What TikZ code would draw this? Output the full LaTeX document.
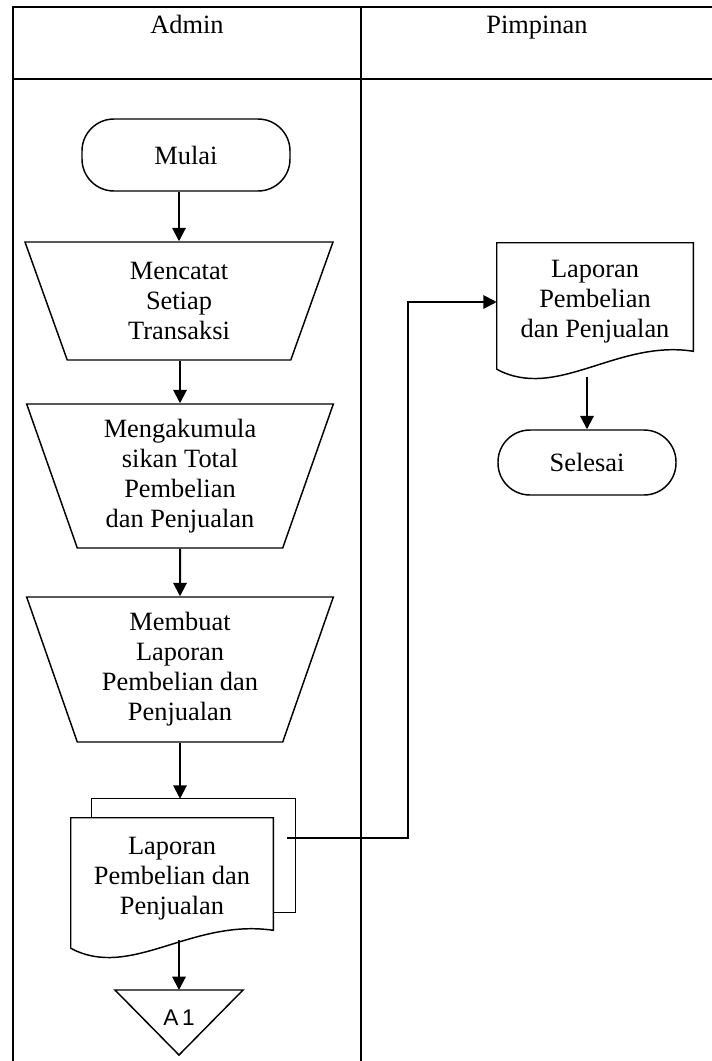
\documentclass[tikz,border=0pt]{standalone}
\usepackage{fontspec}
\setmainfont{Liberation Serif}
\newfontfamily\labelfont{Liberation Sans}
\usetikzlibrary{calc,shapes.geometric,arrows.meta}
\newcommand{\boxfont}{\fontsize{19.8}{22.5}\selectfont}
\newcommand{\drawdoc}[2]{
	\draw[shapeline] ($(#1.south west)+(0,#2)$) -- (#1.north west) -- (#1.north east)
		-- ($(#1.south east)+(0,#2-18)$)
		.. controls ($(#1.south west)+(120,#2-30)$) and ($(#1.south west)+(60,#2+32)$)
		.. ($(#1.south west)+(0,#2)$);
}

\begin{document}
\begin{tikzpicture}[x=0.75pt,y=-0.75pt,
	laneline/.style={line width=1.5pt},
	shapeline/.style={line width=1.1pt},
	arr/.style={line width=1.5pt,-{Triangle[length=10pt,width=10pt]}},
	terminal/.style={draw,shapeline,rounded corners=24pt,minimum width=156pt,minimum height=54pt,font=\boxfont},
	process/.style={draw,shapeline,trapezium,shape border rotate=180,trapezium stretches body,align=center,font=\boxfont,inner sep=2pt},
	docbox/.style={align=center,font=\boxfont,inner sep=0pt}]
	\useasboundingbox (0,0) rectangle (712,1061);

	% swimlanes
	\draw[laneline] (13,1061) -- (13,7) -- (712,7);
	\draw[laneline] (13,79) -- (712,79);
	\draw[laneline] (361,7) -- (361,1061);
	\node[font=\boxfont,anchor=base] (admin) at (187,33) {Admin};
	\node[font=\boxfont,anchor=base] (pimpinan) at (537,33) {Pimpinan};

	% admin
	\node[terminal] (mulai) at (186,155) {Mulai};
	\node[process,trapezium angle=63,minimum width=231pt,minimum height=88.5pt] (catat) at (179,301) {Mencatat\\Setiap\\Transaksi};
	\node[process,trapezium angle=67,minimum width=230pt,minimum height=108pt] (akumulasi) at (180,476) {Mengakumula\\sikan Total\\Pembelian\\dan Penjualan};
	\node[process,trapezium angle=67,minimum width=230pt,minimum height=108.75pt] (buat) at (180,669.5) {Membuat\\Laporan\\Pembelian dan\\Penjualan};
	\node[docbox,minimum width=152.25pt,minimum height=84.75pt] (lapB) at (193.5,855.5) {};
	\node[docbox,minimum width=151.5pt,minimum height=91.5pt] (lapA) at (172,879) {Laporan\\Pembelian dan\\Penjualan};
	\draw[shapeline] (lapB.west |- lapA.north) -- (lapB.north west) -- (lapB.north east)
		-- (lapB.south east) -- (lapA.east |- lapB.south);
	\drawdoc{lapA}{8}
	\coordinate (a1top) at (179,990);
	\draw[shapeline] (115,990) -- (243,990) -- (179,1055) -- cycle;
	\node[font=\labelfont\fontsize{17}{20}\selectfont] (a1) at (179,1018) {A\,1};

	% pimpinan
	\node[docbox,minimum width=147pt,minimum height=88.5pt] (lapC) at (595,302) {Laporan\\Pembelian\\dan Penjualan};
	\drawdoc{lapC}{8}
	\node[terminal,minimum width=133.5pt,minimum height=48.75pt] (selesai) at (587,462.5) {Selesai};

	% arrows
	\draw[arr] (catat.north |- mulai.south) -- (catat.north);
	\draw[arr] (akumulasi.north |- catat.south) -- (akumulasi.north);
	\draw[arr] (akumulasi.south) -- (buat.north);
	\draw[arr] (buat.south) -- (buat.south |- lapB.north);
	\draw[arr] (a1top |- lapA.south) -- (a1top);
	\coordinate (lapout) at (287,838);
	\draw[arr] (lapout) -| (408,302) -- (lapC.west);
	\draw[arr] ($(selesai.north |- lapC.south)+(0,16)$) -- (selesai.north);
\end{tikzpicture}
\end{document}
